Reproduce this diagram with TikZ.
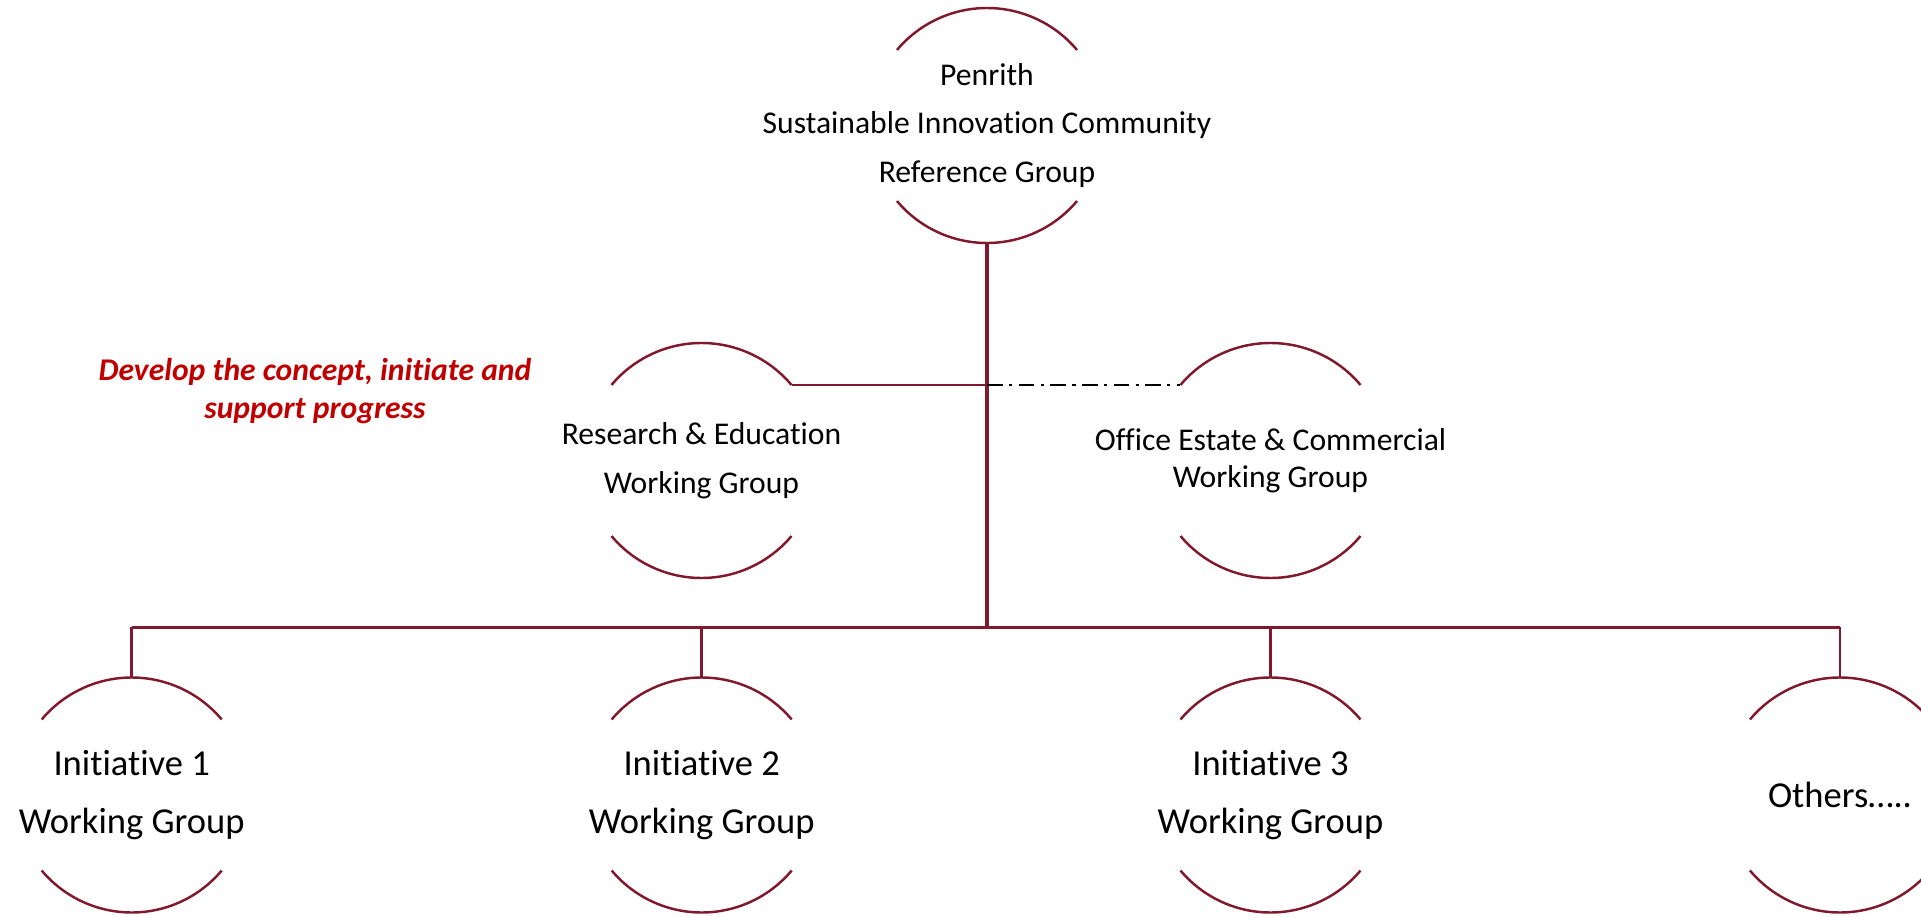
\documentclass[tikz,border=0pt]{standalone}
\usepackage{fontspec}
\setmainfont{Carlito}[Ligatures=NoCommon]
\usepackage{xcolor}
\usepackage{tikz}
\usetikzlibrary{calc}
\definecolor{wine}{RGB}{128,25,45}
\definecolor{alertred}{RGB}{192,0,0}
\newcommand{\ringarcs}[1]{%
  \draw[link] (#1.40) arc[start angle=40, end angle=140, radius=1.175];
  \draw[link] (#1.220) arc[start angle=220, end angle=320, radius=1.175];}

\begin{document}
\begin{tikzpicture}[
    link/.style={draw=wine, line width=0.7pt},
    dashdot/.style={draw=black, line width=0.7pt, dash pattern=on 4.5pt off 1.8pt on 0.9pt off 1.8pt},
    ring/.style={circle, minimum size=2.35cm, inner sep=0pt, outer sep=0pt},
    lbl/.style={align=center, font=\fontsize{9}{13.8}\selectfont},
    wg/.style={align=center, font=\fontsize{10.4}{16.5}\selectfont}]
    \clip (0,0) rectangle (19.21,9.17);

    % Reference group
    \node[ring] (ref) at (9.87,7.915) {};
    \node[lbl] (reftxt) at (ref) {Penrith\\Sustainable Innovation Community\\Reference Group};
    \ringarcs{ref}

    % Standing working groups
    \node[ring] (res) at (7.015,4.565) {};
    \node[lbl] (restxt) at (res) {Research \& Education\\Working Group};
    \ringarcs{res}
    \node[ring] (off) at (12.705,4.565) {};
    \node[align=center, font=\fontsize{9}{10.4}\selectfont] (offtxt) at (off) {Office Estate \& Commercial\\Working Group};
    \ringarcs{off}

    % Initiative working groups
    \node[ring] (ini1) at (1.317,1.22) {};
    \node[wg] (ini1txt) at (ini1) {Initiative 1\\Working Group};
    \node[ring] (ini2) at (7.017,1.22) {};
    \node[wg] (ini2txt) at (ini2) {Initiative 2\\Working Group};
    \node[ring] (ini3) at (12.705,1.22) {};
    \node[wg] (ini3txt) at (ini3) {Initiative 3\\Working Group};
    \node[ring] (oth) at (18.40,1.22) {};
    \node[wg] (othtxt) at (oth) {Others…..};
    \foreach \n in {ini1,ini2,ini3,oth}
        \ringarcs{\n};

    % Remark
    \node[align=center, text=alertred, font=\fontsize{9}{10.9}\selectfont\bfseries\itshape] (remark) at (3.15,5.26)
        {Develop the concept, initiate and\\support progress};

    % Connectors
    \coordinate (busL) at (1.317,2.897);
    \draw[link, line width=0.9pt] (ref.south) -- (ref.south |- busL);
    \draw[link] (res.40) -- (res.40 -| ref.south);
    \draw[dashdot] (ref.south |- off.140) -- (off.140);
    \draw[link] (ini1.north |- busL) -- (oth.north |- busL);
    \foreach \n in {ini1,ini2,ini3,oth}
        \draw[link] (\n.north) -- (\n.north |- busL);
\end{tikzpicture}
\end{document}
